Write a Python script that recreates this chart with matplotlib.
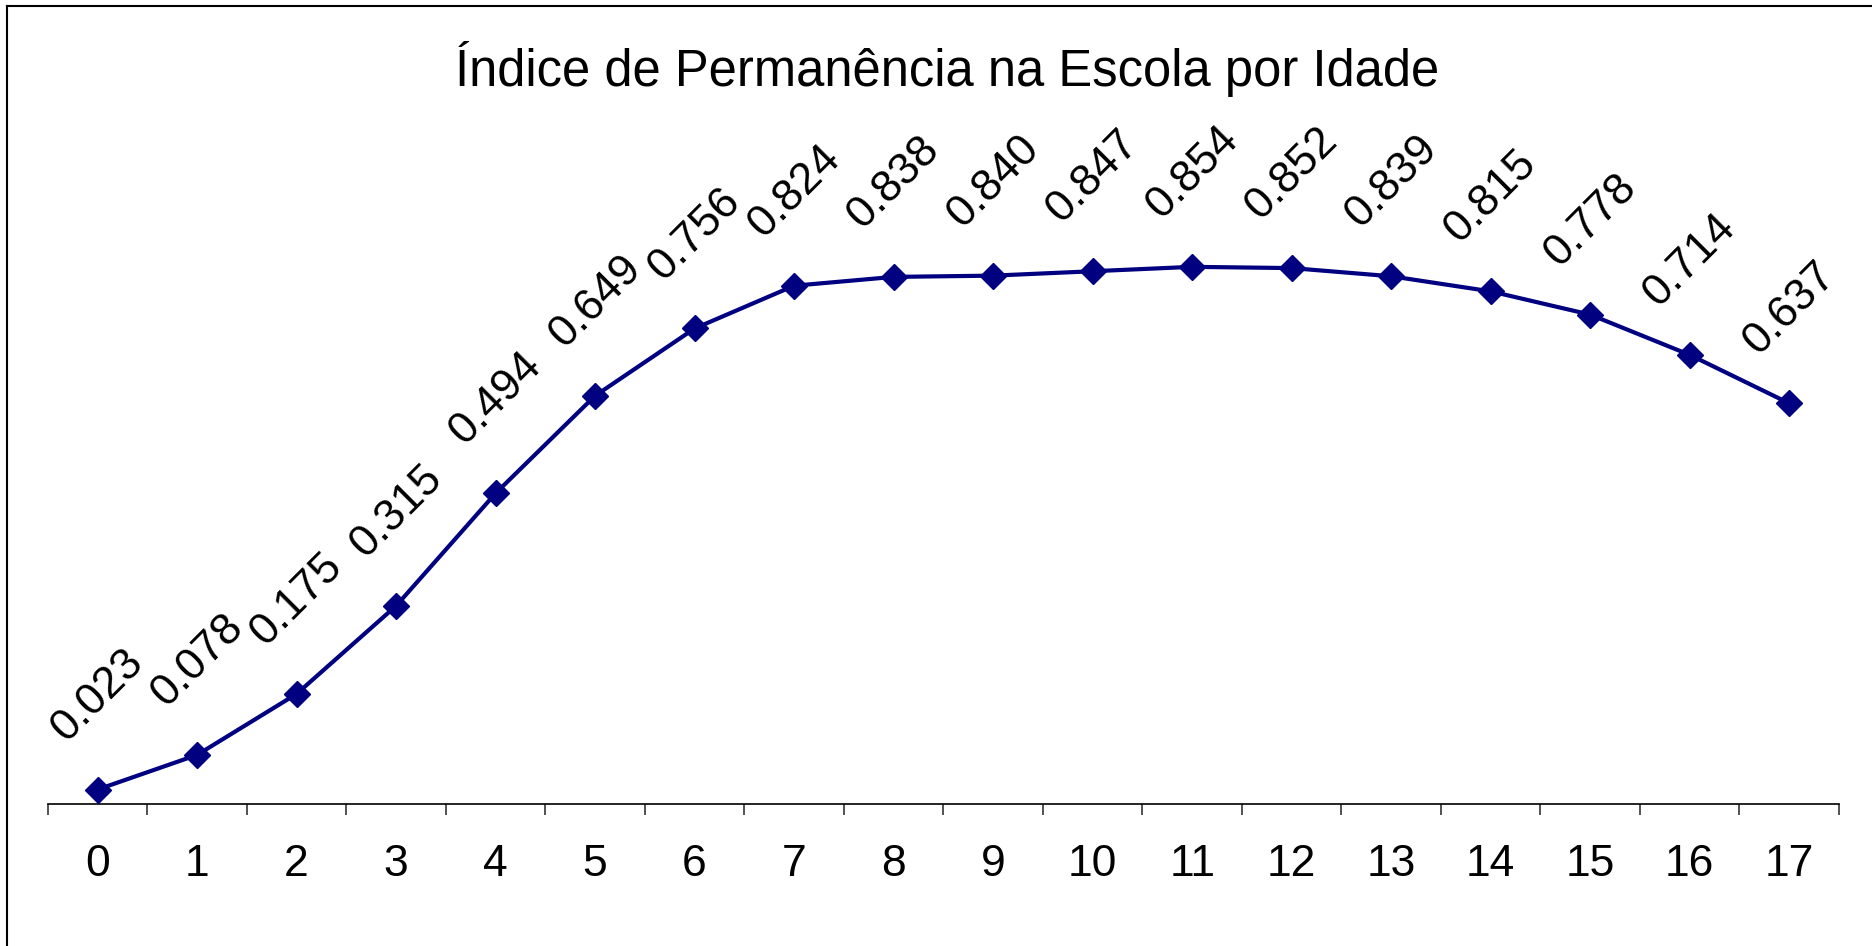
import matplotlib
matplotlib.use("Agg")
import matplotlib.pyplot as plt
from matplotlib.lines import Line2D

ages = list(range(18))
values = [0.023, 0.078, 0.175, 0.315, 0.494, 0.649, 0.756, 0.824, 0.838,
          0.840, 0.847, 0.854, 0.852, 0.839, 0.815, 0.778, 0.714, 0.637]
labels = [f"{v:.3f}" for v in values]
title = "Índice de Permanência na Escola por Idade"

plt.rcParams['font.family'] = ['Liberation Sans', 'DejaVu Sans']

W, H = 1872, 946
fig = plt.figure(figsize=(W / 100, H / 100), dpi=100)
ax = fig.add_axes([47.8 / W, 1 - 804 / H, (1839 - 47.8) / W, (804 - 175) / H])

navy = '#000080'
ax.plot(ages, values, color=navy, lw=3.0, marker='D', ms=13.5,
        mfc=navy, mec=navy, mew=1, clip_on=False, zorder=3)
for x, v, lab in zip(ages, values, labels):
    ax.annotate(lab, (x, v), xytext=(0, 68), textcoords='offset points',
                ha='center', va='center', rotation=45, fontsize=32,
                color='black')

ax.set_xlim(-0.5, 17.5)
ax.set_ylim(0, 1)
ax.set_yticks([])
for s in ['left', 'right', 'top']:
    ax.spines[s].set_visible(False)
ax.spines['bottom'].set_linewidth(1.2)
ax.set_xticks([i - 0.5 for i in range(19)], minor=False)
ax.set_xticklabels([])
ax.set_xticks(ages, minor=True)
ax.set_xticklabels([str(a) for a in ages], minor=True, fontsize=32)
ax.tick_params(axis='x', which='major', direction='out', length=8, width=1.2, color='#333333')
ax.tick_params(axis='x', which='minor', length=0, pad=29)

fig.text(947 / W, 1 - 69 / H, title, ha='center', va='center', fontsize=36.5)

# figure border (left and top visible)
fig.add_artist(Line2D([7.5 / W, 7.5 / W], [0, 1 - 6 / H], color='black', lw=1.5))
fig.add_artist(Line2D([7.5 / W, 1], [1 - 6 / H, 1 - 6 / H], color='black', lw=1.5))

fig.savefig('out.png', dpi=100)
